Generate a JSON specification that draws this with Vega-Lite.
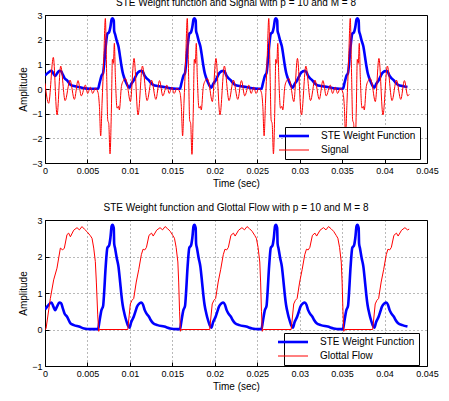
{
  "$schema": "https://vega.github.io/schema/vega-lite/v6.json",
  "padding": {"left": 18, "top": -3, "right": 4, "bottom": 4},
  "background": "white",
  "config": {
    "font": "Liberation Sans",
    "view": {"stroke": "black", "strokeWidth": 1},
    "axis": {
      "domain": false,
      "grid": true,
      "gridColor": "#000000",
      "gridOpacity": 0.55,
      "gridDash": [1, 3],
      "gridWidth": 1,
      "tickSize": -4,
      "tickColor": "#000000",
      "tickCount": 12,
      "labelPadding": 7,
      "labelFontSize": 9,
      "labelColor": "#000000",
      "labelOverlap": false,
      "labelFlush": false,
      "titleFontSize": 10,
      "titleFontWeight": "normal",
      "titleColor": "#000000"
    },
    "title": {"fontSize": 10, "fontWeight": "normal", "color": "#000000", "offset": 3},
    "legend": {
      "orient": "none",
      "fillColor": "white",
      "strokeColor": "black",
      "padding": 4,
      "labelFontSize": 10,
      "labelColor": "#000000",
      "symbolType": "M-3,0H3",
      "symbolSize": 100,
      "labelOffset": 22,
      "rowPadding": 3,
      "title": null
    }
  },
  "datasets": {
    "ste": [
      {"t": 0, "v": 0.55}, {"t": 0.0004, "v": 0.67}, {"t": 0.00075, "v": 0.74}, {"t": 0.001, "v": 0.62}, {"t": 0.0012, "v": 0.53}, {"t": 0.0014, "v": 0.62}, {"t": 0.0017, "v": 0.74}, {"t": 0.0019, "v": 0.72}, {"t": 0.0021, "v": 0.58}, {"t": 0.0023, "v": 0.44}, {"t": 0.0026, "v": 0.35}, {"t": 0.003, "v": 0.17}, {"t": 0.0034, "v": 0.12}, {"t": 0.004, "v": 0.08}, {"t": 0.0046, "v": 0.03}, {"t": 0.0053, "v": 0.01}, {"t": 0.006, "v": 0.01},
      {"t": 0.00625, "v": 0.01}, {"t": 0.0064, "v": 0.2}, {"t": 0.00665, "v": 0.53}, {"t": 0.00685, "v": 0.65}, {"t": 0.00695, "v": 0.95}, {"t": 0.00715, "v": 1.73}, {"t": 0.00735, "v": 2.24}, {"t": 0.00755, "v": 2.3}, {"t": 0.0077, "v": 2.5}, {"t": 0.00785, "v": 2.83}, {"t": 0.00795, "v": 2.87}, {"t": 0.0081, "v": 2.78}, {"t": 0.00815, "v": 2.35}, {"t": 0.00825, "v": 2.23}, {"t": 0.00845, "v": 1.96}, {"t": 0.00865, "v": 1.73}, {"t": 0.00885, "v": 1.3}, {"t": 0.009, "v": 0.95}, {"t": 0.00915, "v": 0.67}, {"t": 0.00935, "v": 0.44}, {"t": 0.00955, "v": 0.26}, {"t": 0.00975, "v": 0.12}, {"t": 0.00995, "v": 0.05}, {"t": 0.01015, "v": 0.2}, {"t": 0.01045, "v": 0.35}, {"t": 0.01065, "v": 0.49}, {"t": 0.01085, "v": 0.63}, {"t": 0.01115, "v": 0.72}, {"t": 0.01135, "v": 0.74}, {"t": 0.01155, "v": 0.68}, {"t": 0.01175, "v": 0.53}, {"t": 0.01195, "v": 0.44}, {"t": 0.01225, "v": 0.35}, {"t": 0.01245, "v": 0.26}, {"t": 0.01275, "v": 0.17}, {"t": 0.01325, "v": 0.12}, {"t": 0.01405, "v": 0.08}, {"t": 0.01475, "v": 0.03}, {"t": 0.01545, "v": 0.01},
      {"t": 0.0159, "v": 0.01}, {"t": 0.01605, "v": 0.2}, {"t": 0.0163, "v": 0.53}, {"t": 0.0165, "v": 0.65}, {"t": 0.0166, "v": 0.95}, {"t": 0.0168, "v": 1.73}, {"t": 0.017, "v": 2.24}, {"t": 0.0172, "v": 2.3}, {"t": 0.01735, "v": 2.5}, {"t": 0.0175, "v": 2.83}, {"t": 0.0176, "v": 2.87}, {"t": 0.01775, "v": 2.78}, {"t": 0.0178, "v": 2.35}, {"t": 0.0179, "v": 2.23}, {"t": 0.0181, "v": 1.96}, {"t": 0.0183, "v": 1.73}, {"t": 0.0185, "v": 1.3}, {"t": 0.01865, "v": 0.95}, {"t": 0.0188, "v": 0.67}, {"t": 0.019, "v": 0.44}, {"t": 0.0192, "v": 0.26}, {"t": 0.0194, "v": 0.12}, {"t": 0.0196, "v": 0.05}, {"t": 0.0198, "v": 0.2}, {"t": 0.0201, "v": 0.35}, {"t": 0.0203, "v": 0.49}, {"t": 0.0205, "v": 0.63}, {"t": 0.0208, "v": 0.72}, {"t": 0.021, "v": 0.74}, {"t": 0.0212, "v": 0.68}, {"t": 0.0214, "v": 0.53}, {"t": 0.0216, "v": 0.44}, {"t": 0.0219, "v": 0.35}, {"t": 0.0221, "v": 0.26}, {"t": 0.0224, "v": 0.17}, {"t": 0.0229, "v": 0.12}, {"t": 0.0237, "v": 0.08}, {"t": 0.0244, "v": 0.03}, {"t": 0.0251, "v": 0.01},
      {"t": 0.0255, "v": 0.01}, {"t": 0.02565, "v": 0.2}, {"t": 0.0259, "v": 0.53}, {"t": 0.0261, "v": 0.65}, {"t": 0.0262, "v": 0.95}, {"t": 0.0264, "v": 1.73}, {"t": 0.0266, "v": 2.24}, {"t": 0.0268, "v": 2.3}, {"t": 0.02695, "v": 2.5}, {"t": 0.0271, "v": 2.83}, {"t": 0.0272, "v": 2.87}, {"t": 0.02735, "v": 2.78}, {"t": 0.0274, "v": 2.35}, {"t": 0.0275, "v": 2.23}, {"t": 0.0277, "v": 1.96}, {"t": 0.0279, "v": 1.73}, {"t": 0.0281, "v": 1.3}, {"t": 0.02825, "v": 0.95}, {"t": 0.0284, "v": 0.67}, {"t": 0.0286, "v": 0.44}, {"t": 0.0288, "v": 0.26}, {"t": 0.029, "v": 0.12}, {"t": 0.0292, "v": 0.05}, {"t": 0.0294, "v": 0.2}, {"t": 0.0297, "v": 0.35}, {"t": 0.0299, "v": 0.49}, {"t": 0.0301, "v": 0.63}, {"t": 0.0304, "v": 0.72}, {"t": 0.0306, "v": 0.74}, {"t": 0.0308, "v": 0.68}, {"t": 0.031, "v": 0.53}, {"t": 0.0312, "v": 0.44}, {"t": 0.0315, "v": 0.35}, {"t": 0.0317, "v": 0.26}, {"t": 0.032, "v": 0.17}, {"t": 0.0325, "v": 0.12}, {"t": 0.0333, "v": 0.08}, {"t": 0.034, "v": 0.03}, {"t": 0.0347, "v": 0.01},
      {"t": 0.0351, "v": 0.01}, {"t": 0.03525, "v": 0.2}, {"t": 0.0355, "v": 0.53}, {"t": 0.0357, "v": 0.65}, {"t": 0.0358, "v": 0.95}, {"t": 0.036, "v": 1.73}, {"t": 0.0362, "v": 2.24}, {"t": 0.0364, "v": 2.3}, {"t": 0.03655, "v": 2.5}, {"t": 0.0367, "v": 2.83}, {"t": 0.0368, "v": 2.87}, {"t": 0.03695, "v": 2.78}, {"t": 0.037, "v": 2.35}, {"t": 0.0371, "v": 2.23}, {"t": 0.0373, "v": 1.96}, {"t": 0.0375, "v": 1.73}, {"t": 0.0377, "v": 1.3}, {"t": 0.03785, "v": 0.95}, {"t": 0.038, "v": 0.67}, {"t": 0.0382, "v": 0.44}, {"t": 0.0384, "v": 0.26}, {"t": 0.0386, "v": 0.12}, {"t": 0.0388, "v": 0.05}, {"t": 0.039, "v": 0.2}, {"t": 0.0393, "v": 0.35}, {"t": 0.0395, "v": 0.49}, {"t": 0.0397, "v": 0.63}, {"t": 0.04, "v": 0.72}, {"t": 0.0402, "v": 0.74}, {"t": 0.0404, "v": 0.68}, {"t": 0.0406, "v": 0.53}, {"t": 0.0408, "v": 0.44}, {"t": 0.0411, "v": 0.35}, {"t": 0.0413, "v": 0.26}, {"t": 0.0416, "v": 0.17}, {"t": 0.0421, "v": 0.12}, {"t": 0.0427, "v": 0.08}
    ],
    "signal": [
      {"t": 0, "v": 0.23}, {"t": 0.00043, "v": -0.58}, {"t": 0.00098, "v": 1.28}, {"t": 0.00142, "v": -1.05}, {"t": 0.00185, "v": 0.93}, {"t": 0.00237, "v": -0.47}, {"t": 0.00295, "v": 0.36}, {"t": 0.00346, "v": -0.42}, {"t": 0.00389, "v": 0.34}, {"t": 0.00428, "v": -0.28}, {"t": 0.00475, "v": 0.16}, {"t": 0.00503, "v": -0.18}, {"t": 0.00534, "v": 0.07}, {"t": 0.00562, "v": -0.18}, {"t": 0.00593, "v": 0.03},
      {"t": 0.00625, "v": -0.15}, {"t": 0.00641, "v": -0.7}, {"t": 0.00656, "v": -1.9}, {"t": 0.00672, "v": -0.58}, {"t": 0.00692, "v": 1.2}, {"t": 0.00711, "v": 2.86}, {"t": 0.00727, "v": 0.5}, {"t": 0.00739, "v": -1.26}, {"t": 0.00751, "v": -1.4}, {"t": 0.00766, "v": -2.63}, {"t": 0.00782, "v": -0.85}, {"t": 0.00794, "v": 1.2}, {"t": 0.00806, "v": 1.04}, {"t": 0.00817, "v": 1.85}, {"t": 0.00829, "v": 0.5}, {"t": 0.00849, "v": -0.78}, {"t": 0.00865, "v": -0.7}, {"t": 0.00876, "v": -0.85}, {"t": 0.009, "v": 0.1}, {"t": 0.00925, "v": 0.35}, {"t": 0.00947, "v": 0.43}, {"t": 0.00965, "v": 0.25}, {"t": 0.01006, "v": -0.51}, {"t": 0.01049, "v": 1.24}, {"t": 0.01096, "v": -1.05}, {"t": 0.01148, "v": 0.93}, {"t": 0.01203, "v": -0.47}, {"t": 0.01255, "v": 0.36}, {"t": 0.01306, "v": -0.42}, {"t": 0.01349, "v": 0.34}, {"t": 0.01388, "v": -0.28}, {"t": 0.01435, "v": 0.16}, {"t": 0.01463, "v": -0.18}, {"t": 0.01494, "v": 0.07}, {"t": 0.01522, "v": -0.18}, {"t": 0.01553, "v": 0.03},
      {"t": 0.0159, "v": -0.15}, {"t": 0.01606, "v": -0.7}, {"t": 0.01621, "v": -1.9}, {"t": 0.01637, "v": -0.58}, {"t": 0.01657, "v": 1.2}, {"t": 0.01676, "v": 2.86}, {"t": 0.01692, "v": 0.5}, {"t": 0.01704, "v": -1.26}, {"t": 0.01716, "v": -1.4}, {"t": 0.01731, "v": -2.65}, {"t": 0.01747, "v": -0.85}, {"t": 0.01759, "v": 1.2}, {"t": 0.01771, "v": 1.04}, {"t": 0.01782, "v": 1.85}, {"t": 0.01794, "v": 0.5}, {"t": 0.01814, "v": -0.78}, {"t": 0.0183, "v": -0.7}, {"t": 0.01841, "v": -0.85}, {"t": 0.01865, "v": 0.1}, {"t": 0.0189, "v": 0.35}, {"t": 0.01912, "v": 0.43}, {"t": 0.0193, "v": 0.25}, {"t": 0.01971, "v": -0.51}, {"t": 0.02014, "v": 1.24}, {"t": 0.02061, "v": -1.05}, {"t": 0.02113, "v": 0.93}, {"t": 0.02168, "v": -0.47}, {"t": 0.0222, "v": 0.36}, {"t": 0.02271, "v": -0.42}, {"t": 0.02314, "v": 0.34}, {"t": 0.02353, "v": -0.28}, {"t": 0.024, "v": 0.16}, {"t": 0.02428, "v": -0.18}, {"t": 0.02459, "v": 0.07}, {"t": 0.02487, "v": -0.18}, {"t": 0.02518, "v": 0.03},
      {"t": 0.0255, "v": -0.15}, {"t": 0.02566, "v": -0.7}, {"t": 0.02581, "v": -1.9}, {"t": 0.02597, "v": -0.58}, {"t": 0.02617, "v": 1.2}, {"t": 0.02636, "v": 2.86}, {"t": 0.02652, "v": 0.5}, {"t": 0.02664, "v": -1.26}, {"t": 0.02676, "v": -1.4}, {"t": 0.02691, "v": -2.63}, {"t": 0.02707, "v": -0.85}, {"t": 0.02719, "v": 1.2}, {"t": 0.02731, "v": 1.04}, {"t": 0.02742, "v": 1.85}, {"t": 0.02754, "v": 0.5}, {"t": 0.02774, "v": -0.78}, {"t": 0.0279, "v": -0.7}, {"t": 0.02801, "v": -0.85}, {"t": 0.02825, "v": 0.1}, {"t": 0.0285, "v": 0.35}, {"t": 0.02872, "v": 0.43}, {"t": 0.0289, "v": 0.25}, {"t": 0.02931, "v": -0.51}, {"t": 0.02974, "v": 1.24}, {"t": 0.03021, "v": -1.05}, {"t": 0.03073, "v": 0.93}, {"t": 0.03128, "v": -0.47}, {"t": 0.0318, "v": 0.36}, {"t": 0.03231, "v": -0.42}, {"t": 0.03274, "v": 0.34}, {"t": 0.03313, "v": -0.28}, {"t": 0.0336, "v": 0.16}, {"t": 0.03388, "v": -0.18}, {"t": 0.03419, "v": 0.07}, {"t": 0.03447, "v": -0.18}, {"t": 0.03478, "v": 0.03},
      {"t": 0.0351, "v": -0.15}, {"t": 0.03526, "v": -0.7}, {"t": 0.03541, "v": -1.9}, {"t": 0.03557, "v": -0.58}, {"t": 0.03577, "v": 1.2}, {"t": 0.03596, "v": 2.86}, {"t": 0.03612, "v": 0.5}, {"t": 0.03624, "v": -1.26}, {"t": 0.03636, "v": -1.4}, {"t": 0.03651, "v": -2.63}, {"t": 0.03667, "v": -0.85}, {"t": 0.03679, "v": 1.2}, {"t": 0.03691, "v": 1.04}, {"t": 0.03702, "v": 1.85}, {"t": 0.03714, "v": 0.5}, {"t": 0.03734, "v": -0.78}, {"t": 0.0375, "v": -0.7}, {"t": 0.03761, "v": -0.85}, {"t": 0.03785, "v": 0.1}, {"t": 0.0381, "v": 0.35}, {"t": 0.03832, "v": 0.43}, {"t": 0.0385, "v": 0.25}, {"t": 0.03891, "v": -0.51}, {"t": 0.03934, "v": 1.24}, {"t": 0.03981, "v": -1.05}, {"t": 0.04033, "v": 0.93}, {"t": 0.04088, "v": -0.47}, {"t": 0.0414, "v": 0.36}, {"t": 0.04191, "v": -0.42}, {"t": 0.04234, "v": 0.34}, {"t": 0.04273, "v": -0.28}, {"t": 0.0429, "v": -0.22}
    ],
    "flow": [
      {"t": 0, "v": 0}, {"t": 0.00012, "v": 0.02}, {"t": 0.00063, "v": 0.85}, {"t": 0.00102, "v": 1.36}, {"t": 0.00141, "v": 1.68}, {"t": 0.00181, "v": 2.23}, {"t": 0.00208, "v": 2.18}, {"t": 0.00228, "v": 2.23}, {"t": 0.00259, "v": 2.6}, {"t": 0.00279, "v": 2.64}, {"t": 0.00299, "v": 2.54}, {"t": 0.00338, "v": 2.72}, {"t": 0.00377, "v": 2.79}, {"t": 0.00405, "v": 2.73}, {"t": 0.00436, "v": 2.82}, {"t": 0.00464, "v": 2.75}, {"t": 0.00495, "v": 2.68}, {"t": 0.00534, "v": 2.57}, {"t": 0.00554, "v": 2.5}, {"t": 0.00574, "v": 2.23}, {"t": 0.00593, "v": 1.86}, {"t": 0.00605, "v": 1.3}, {"t": 0.00621, "v": 0.4}, {"t": 0.00633, "v": -0.05}, {"t": 0.0064, "v": 0},
      {"t": 0.00975, "v": 0}, {"t": 0.01005, "v": 0.7}, {"t": 0.01025, "v": 0.8}, {"t": 0.01045, "v": 0.85}, {"t": 0.01075, "v": 1.3}, {"t": 0.01105, "v": 1.65}, {"t": 0.01135, "v": 2.05}, {"t": 0.01155, "v": 2.2}, {"t": 0.01175, "v": 2.18}, {"t": 0.01195, "v": 2.25}, {"t": 0.01225, "v": 2.58}, {"t": 0.01255, "v": 2.64}, {"t": 0.01275, "v": 2.56}, {"t": 0.01315, "v": 2.72}, {"t": 0.01355, "v": 2.79}, {"t": 0.01385, "v": 2.73}, {"t": 0.01415, "v": 2.82}, {"t": 0.01445, "v": 2.76}, {"t": 0.01475, "v": 2.69}, {"t": 0.01505, "v": 2.58}, {"t": 0.01525, "v": 2.5}, {"t": 0.01545, "v": 2.25}, {"t": 0.01565, "v": 1.85}, {"t": 0.01575, "v": 1.3}, {"t": 0.01585, "v": 0.5}, {"t": 0.01595, "v": -0.05}, {"t": 0.01605, "v": 0},
      {"t": 0.0194, "v": 0}, {"t": 0.0197, "v": 0.7}, {"t": 0.0199, "v": 0.8}, {"t": 0.0201, "v": 0.85}, {"t": 0.0204, "v": 1.3}, {"t": 0.0207, "v": 1.65}, {"t": 0.021, "v": 2.05}, {"t": 0.0212, "v": 2.2}, {"t": 0.0214, "v": 2.18}, {"t": 0.0216, "v": 2.25}, {"t": 0.0219, "v": 2.58}, {"t": 0.0222, "v": 2.64}, {"t": 0.0224, "v": 2.56}, {"t": 0.0228, "v": 2.72}, {"t": 0.0232, "v": 2.79}, {"t": 0.0235, "v": 2.73}, {"t": 0.0238, "v": 2.82}, {"t": 0.0241, "v": 2.76}, {"t": 0.0244, "v": 2.69}, {"t": 0.0247, "v": 2.58}, {"t": 0.0249, "v": 2.5}, {"t": 0.0251, "v": 2.25}, {"t": 0.0253, "v": 1.85}, {"t": 0.0254, "v": 1.3}, {"t": 0.0255, "v": 0.5}, {"t": 0.0256, "v": -0.05}, {"t": 0.0257, "v": 0},
      {"t": 0.029, "v": 0}, {"t": 0.0293, "v": 0.7}, {"t": 0.0295, "v": 0.8}, {"t": 0.0297, "v": 0.85}, {"t": 0.03, "v": 1.3}, {"t": 0.0303, "v": 1.65}, {"t": 0.0306, "v": 2.05}, {"t": 0.0308, "v": 2.2}, {"t": 0.031, "v": 2.18}, {"t": 0.0312, "v": 2.25}, {"t": 0.0315, "v": 2.58}, {"t": 0.0318, "v": 2.64}, {"t": 0.032, "v": 2.56}, {"t": 0.0324, "v": 2.72}, {"t": 0.0328, "v": 2.79}, {"t": 0.0331, "v": 2.73}, {"t": 0.0334, "v": 2.82}, {"t": 0.0337, "v": 2.76}, {"t": 0.034, "v": 2.69}, {"t": 0.0343, "v": 2.58}, {"t": 0.0345, "v": 2.5}, {"t": 0.0347, "v": 2.25}, {"t": 0.0349, "v": 1.85}, {"t": 0.035, "v": 1.3}, {"t": 0.0351, "v": 0.5}, {"t": 0.0352, "v": -0.05}, {"t": 0.0353, "v": 0},
      {"t": 0.0386, "v": 0}, {"t": 0.0389, "v": 0.7}, {"t": 0.0391, "v": 0.8}, {"t": 0.0393, "v": 0.85}, {"t": 0.0396, "v": 1.3}, {"t": 0.0399, "v": 1.65}, {"t": 0.0402, "v": 2.05}, {"t": 0.0404, "v": 2.2}, {"t": 0.0406, "v": 2.18}, {"t": 0.0408, "v": 2.25}, {"t": 0.0411, "v": 2.58}, {"t": 0.0414, "v": 2.64}, {"t": 0.0416, "v": 2.56}, {"t": 0.042, "v": 2.72}, {"t": 0.0424, "v": 2.79}, {"t": 0.0427, "v": 2.73}, {"t": 0.0429, "v": 2.75}
    ]
  },
  "vconcat": [
    {
      "title": "STE Weight function and Signal with p = 10 and M = 8",
      "width": 382,
      "height": 148,
      "layer": [
        {
          "data": {"name": "ste"},
          "mark": {"type": "line", "interpolate": "monotone", "clip": true, "strokeWidth": 2.6},
          "encoding": {
            "x": {"field": "t", "type": "quantitative", "title": "Time (sec)", "scale": {"domain": [0, 0.045], "nice": false}, "axis": {"values": [0, 0.005, 0.01, 0.015, 0.02, 0.025, 0.03, 0.035, 0.04, 0.045], "format": "~g", "titlePadding": 3}},
            "y": {"field": "v", "type": "quantitative", "title": "Amplitude", "scale": {"domain": [-3, 3], "nice": false}, "axis": {"values": [-3, -2, -1, 0, 1, 2, 3], "format": "~g", "titlePadding": 3}},
            "color": {"datum": "STE Weight Function", "scale": {"domain": ["STE Weight Function", "Signal"], "range": ["#0000ff", "#ff0000"]}, "legend": {"legendX": 240, "legendY": 112, "encode": {"symbols": {"update": {"strokeWidth": {"signal": "datum.value === 'STE Weight Function' ? 2.6 : 1"}, "stroke": {"signal": "datum.value === 'STE Weight Function' ? '#0000ff' : '#ff0000'"}}}}}}
          }
        },
        {
          "data": {"name": "signal"},
          "mark": {"type": "line", "interpolate": "monotone", "clip": true, "strokeWidth": 1},
          "encoding": {
            "x": {"field": "t", "type": "quantitative"},
            "y": {"field": "v", "type": "quantitative"},
            "color": {"datum": "Signal"}
          }
        }
      ]
    },
    {
      "title": "STE Weight function and Glottal Flow with p = 10 and M = 8",
      "width": 382,
      "height": 146,
      "layer": [
        {
          "data": {"name": "ste"},
          "mark": {"type": "line", "interpolate": "monotone", "clip": true, "strokeWidth": 2.6},
          "encoding": {
            "x": {"field": "t", "type": "quantitative", "title": "Time (sec)", "scale": {"domain": [0, 0.045], "nice": false}, "axis": {"values": [0, 0.005, 0.01, 0.015, 0.02, 0.025, 0.03, 0.035, 0.04, 0.045], "format": "~g", "titlePadding": 3}},
            "y": {"field": "v", "type": "quantitative", "title": "Amplitude", "scale": {"domain": [-1, 3], "nice": false}, "axis": {"values": [-1, 0, 1, 2, 3], "format": "~g", "titlePadding": 3}},
            "color": {"datum": "STE Weight Function", "scale": {"domain": ["STE Weight Function", "Glottal Flow"], "range": ["#0000ff", "#ff0000"]}, "legend": {"legendX": 239, "legendY": 113, "encode": {"symbols": {"update": {"strokeWidth": {"signal": "datum.value === 'STE Weight Function' ? 2.6 : 1"}, "stroke": {"signal": "datum.value === 'STE Weight Function' ? '#0000ff' : '#ff0000'"}}}}}}
          }
        },
        {
          "data": {"name": "flow"},
          "mark": {"type": "line", "clip": true, "strokeWidth": 1},
          "encoding": {
            "x": {"field": "t", "type": "quantitative"},
            "y": {"field": "v", "type": "quantitative"},
            "color": {"datum": "Glottal Flow"}
          }
        }
      ]
    }
  ],
  "spacing": 57,
  "bounds": "flush",
  "resolve": {"scale": {"color": "independent", "x": "independent", "y": "independent"}, "legend": {"color": "independent"}}
}
